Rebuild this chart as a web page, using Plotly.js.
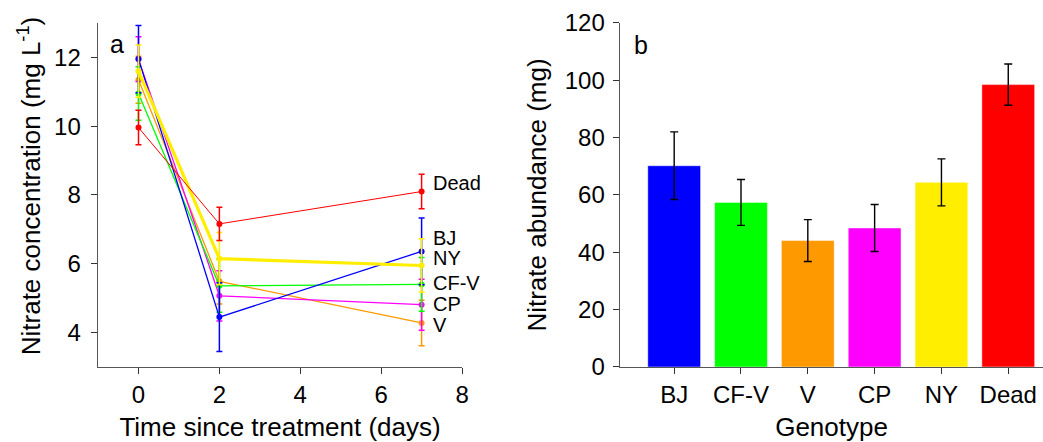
<!DOCTYPE html>
<html>
<head>
<meta charset="utf-8">
<script src="https://cdn.plot.ly/plotly-3.0.1.min.js"></script>
<style>
  html, body { margin: 0; padding: 0; background: #fff; }
  #chart { width: 1043px; height: 442px; }
</style>
</head>
<body>
<div id="chart"></div>
<script>
// Panel a: nitrate concentration over time per genotype
const days = [0, 2, 7];
const seriesNames = ["Dead", "BJ", "NY", "CF-V", "CP", "V"];
const deadConc = [9.96, 7.16, 8.10];
const deadErr = [0.50, 0.48, 0.50];
const bjConc = [11.95, 4.45, 6.36];
const bjErr = [0.98, 1.00, 0.97];
const nyConc = [11.60, 6.15, 5.95];
const nyErr = [0.76, 0.76, 0.78];
const cfvConc = [10.95, 5.36, 5.40];
const cfvErr = [0.78, 0.77, 0.78];
const cpConc = [11.95, 5.07, 4.81];
const cpErr = [0.65, 0.73, 0.74];
const vConc = [11.35, 5.49, 4.28];
const vErr = [0.68, 0.66, 0.66];

// Panel b: nitrate abundance per genotype
const genotypes = ["BJ", "CF-V", "V", "CP", "NY", "Dead"];
const abundance = [70.2, 57.4, 44.1, 48.5, 64.4, 98.5];
const abundanceErr = [11.8, 8.0, 7.3, 8.2, 8.2, 7.2];

const palette = {
  "BJ": "#0000ff",
  "CF-V": "#00ff00",
  "V": "#ff9900",
  "CP": "#ff00ff",
  "NY": "#ffee00",
  "Dead": "#ff0000"
};

const FONT = "Liberation Sans, Arial, Helvetica, sans-serif";
const TICK_SIZE = 24;
const TITLE_SIZE = 26;

function lineTrace(name, y, err, width) {
  return {
    type: "scatter", mode: "lines+markers", name: name,
    x: days, y: y,
    xaxis: "x", yaxis: "y",
    line: { color: palette[name], width: width },
    marker: { color: palette[name], size: 6 },
    error_y: { type: "data", array: err, visible: true, color: palette[name], thickness: 1.5, width: 3 },
    showlegend: false, hoverinfo: "x+y+name"
  };
}

const traces = [
  lineTrace("V", vConc, vErr, 1.3),
  lineTrace("CP", cpConc, cpErr, 1.3),
  lineTrace("CF-V", cfvConc, cfvErr, 1.3),
  lineTrace("BJ", bjConc, bjErr, 1.3),
  lineTrace("NY", nyConc, nyErr, 3.2),
  lineTrace("Dead", deadConc, deadErr, 1)
];

traces.push({
  type: "bar",
  x: genotypes, y: abundance,
  xaxis: "x2", yaxis: "y2",
  width: 0.79,
  marker: {
    color: genotypes.map(g => palette[g]),
    line: { color: "rgba(255,255,255,0.45)", width: 1 }
  },
  error_y: { type: "data", array: abundanceErr, visible: true, color: "#000", thickness: 1.4, width: 4 },
  showlegend: false
});

// End-of-line labels placed beside day 7
const endLabelY = { "Dead": 8.35, "BJ": 6.75, "NY": 6.17, "CF-V": 5.45, "CP": 4.84, "V": 4.23 };
const annotations = seriesNames.map(n => ({
  text: n, x: 7, y: endLabelY[n], xref: "x", yref: "y",
  xanchor: "left", yanchor: "middle", xshift: 9, showarrow: false,
  font: { family: FONT, size: 20, color: "#000" }
}));
annotations.push(
  { text: "a", x: 0.1125, y: 0.90, xref: "paper", yref: "paper", xanchor: "center", yanchor: "middle",
    showarrow: false, font: { family: FONT, size: 25, color: "#000" } },
  { text: "b", x: 0.6145, y: 0.898, xref: "paper", yref: "paper", xanchor: "center", yanchor: "middle",
    showarrow: false, font: { family: FONT, size: 25, color: "#000" } },
  // vertical title of panel a, set a little above the axis centre
  { text: "Nitrate concentration (mg L<sup>-1</sup>)", textangle: -90,
    x: 0.0285, y: 0.578, xref: "paper", yref: "paper", xanchor: "center", yanchor: "middle",
    showarrow: false, font: { family: FONT, size: TITLE_SIZE, color: "#000" } }
);

const axisCommon = {
  showline: true, linecolor: "#555", linewidth: 1.5,
  ticks: "outside", ticklen: 6, tickcolor: "#333", tickwidth: 1,
  showgrid: false, zeroline: false,
  tickfont: { family: FONT, size: TICK_SIZE, color: "#000" }
};

function titleOf(text, standoff) {
  return { text: text, font: { family: FONT, size: TITLE_SIZE, color: "#000" }, standoff: standoff };
}

const layout = {
  width: 1043, height: 442,
  margin: { l: 0, r: 0, t: 0, b: 0 },
  paper_bgcolor: "#fff", plot_bgcolor: "#fff",
  font: { family: FONT, color: "#000" },
  xaxis: Object.assign({}, axisCommon, {
    domain: [0.094, 0.443], range: [-1, 8],
    tickvals: [0, 2, 4, 6, 8],
    title: titleOf("Time since treatment (days)", 10)
  }),
  yaxis: Object.assign({}, axisCommon, {
    domain: [0.1697, 0.948], range: [3, 13],
    tickvals: [4, 6, 8, 10, 12],
    ticklabelstandoff: 5
  }),
  xaxis2: Object.assign({}, axisCommon, {
    domain: [0.5945, 1.0], range: [-0.81, 5.52],
    anchor: "y2",
    title: titleOf("Genotype", 10)
  }),
  yaxis2: Object.assign({}, axisCommon, {
    domain: [0.1697, 0.948], range: [0, 120],
    anchor: "x2",
    tickvals: [0, 20, 40, 60, 80, 100, 120],
    ticklabelstandoff: 3,
    title: titleOf("Nitrate abundance (mg)", 10)
  }),
  bargap: 0.2,
  annotations: annotations
};

Plotly.newPlot("chart", traces, layout, { displayModeBar: false, staticPlot: true });
</script>
</body>
</html>
